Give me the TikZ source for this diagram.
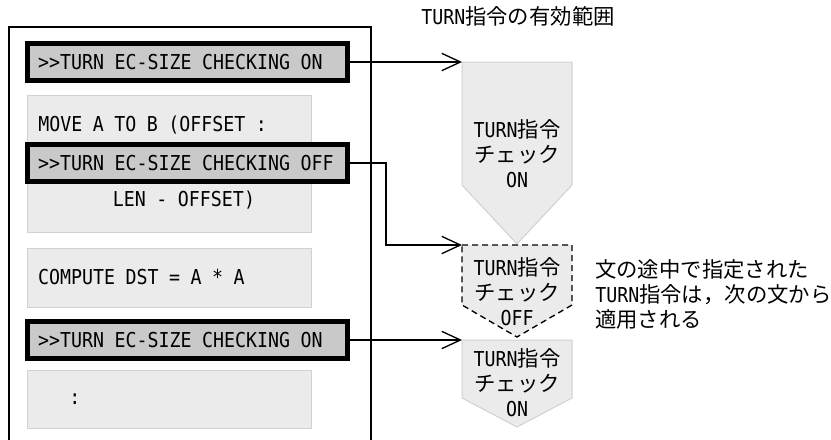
\documentclass[tikz,border=0pt]{standalone}
\usepackage{fontspec}
\setmainfont{DejaVu Sans Mono}[FakeStretch=0.89]
\newfontfamily\jpfont{Noto Sans CJK JP}[Scale=1.04]
\newcommand{\jp}[1]{{\jpfont #1}}
\newcommand{\gap}{\hspace*{7.875pt}}
\usetikzlibrary{arrows.meta}
\definecolor{midGray}{gray}{0.79}
\definecolor{paleGray}{gray}{0.92}
\definecolor{edgeGray}{gray}{0.82}

\begin{document}
\begin{tikzpicture}[
        x=0.75pt, y=-0.75pt,
        font={\fontsize{15.4pt}{18.75pt}\selectfont},
        stmt/.style={rectangle, draw=edgeGray, line width=0.75pt, fill=paleGray, minimum width=213pt, text width=196.5pt, align=left, inner xsep=8.25pt, inner ysep=0pt},
        turn/.style={rectangle, draw=black, line width=3.75pt, fill=midGray, minimum width=240pt, minimum height=27.75pt, text width=224pt, align=left, inner xsep=8pt, inner ysep=0pt},
        stmttext/.style={anchor=west, inner sep=0pt},
        txt/.style={align=center, inner sep=0pt},
        onrange/.style={draw=edgeGray, fill=paleGray, line width=0.75pt},
        offrange/.style={draw=black, fill=paleGray, line width=1pt, dash pattern=on 4.5pt off 3pt},
        arrow/.style={line width=1pt, -{Straight Barb[length=14pt, width=13pt]}}
    ]
    \useasboundingbox (0,0) rectangle (831,439);
    \clip (0,0) rectangle (831,439);

    % Source frame
    \node (frame) [draw, line width=1pt, minimum width=271.5pt, minimum height=317.25pt, inner sep=0pt] at (190,238.5) {};

    % Statements
    \node (move) [stmt, minimum height=102.75pt] at (169,163.5) {};
    \node (movetxt) [stmttext] at (38,125) {MOVE\gap A\gap TO\gap B\gap (OFFSET\gap :};
    \node (lentxt) [txt] at (184,200) {LEN\gap -\gap OFFSET)};
    \node (compute) [stmt, minimum height=44.25pt] at (169,277.5) {COMPUTE\gap DST\gap =\gap A\gap *\gap A};
    \node (rest) [stmt, minimum height=43.5pt] at (169,399) {\hspace*{23.6pt}:};

    % TURN directives
    \node (on1) [turn] at (187.5,62) {>{}>TURN\gap EC-SIZE\gap CHECKING\gap ON};
    \node (off) [turn] at (187.5,163) {>{}>TURN\gap EC-SIZE\gap CHECKING\gap OFF};
    \node (on2) [turn] at (187.5,340) {>{}>TURN\gap EC-SIZE\gap CHECKING\gap ON};

    % Ranges
    \node (title) at (518,16) {TURN\jp{指令の有効範囲}};
    \draw [onrange] (462,62) coordinate (p1nw) -- (572,62) -- (572,185) -- (517,244) -- (462,185) -- cycle;
    \draw [offrange] (462,245) coordinate (p2nw) -- (572,245) -- (572,305) -- (517,337) -- (462,305) -- cycle;
    \draw [onrange] (462,340) coordinate (p3nw) -- (572,340) -- (572,398) -- (517,427) -- (462,398) -- cycle;
    \node (t1) [txt] at (517,154) {TURN\jp{指令}\\\jp{チェック}\\ON};
    \node (t2) [txt] at (517,292) {TURN\jp{指令}\\\jp{チェック}\\OFF};
    \node (t3) [txt] at (517,383) {TURN\jp{指令}\\\jp{チェック}\\ON};
    \node (note) [anchor=west, align=left, inner sep=0pt] at (595,294) {\jp{文の途中で指定された}\\TURN\jp{指令は，次の文から}\\\jp{適用される}};

    % Arrows
    \draw [arrow] (on1.east) -- (on1.east -| p1nw);
    \draw [arrow] (off.east) -- ++(36,0) |- (p2nw);
    \draw [arrow] (on2.east) -- (on2.east -| p3nw);

\end{tikzpicture}
\end{document}
